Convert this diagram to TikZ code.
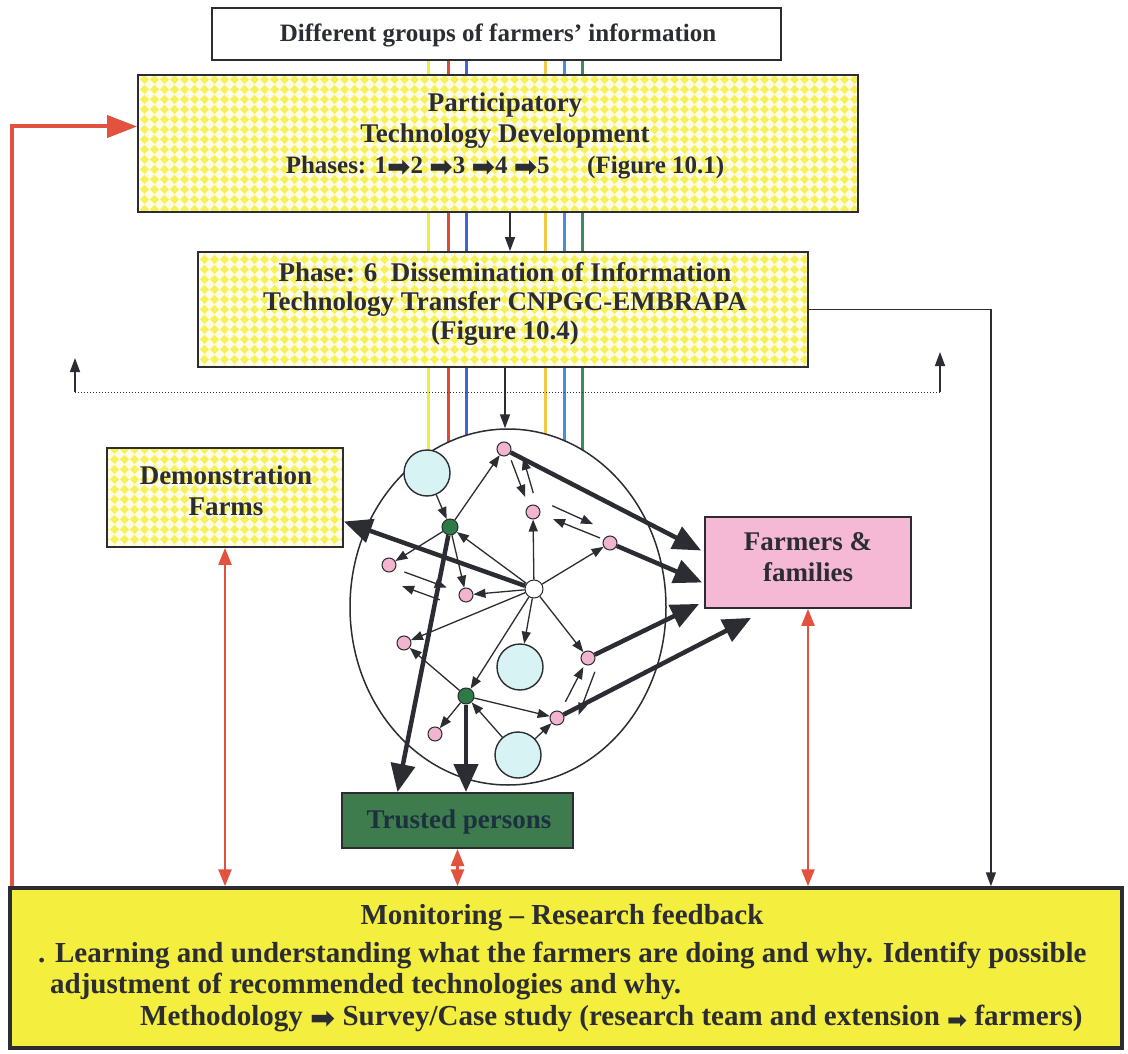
\documentclass[tikz,border=0pt]{standalone}
\usepackage{fontspec}
\setmainfont{Liberation Serif}
\newfontfamily\arrowfont{DejaVu Sans}
\usetikzlibrary{arrows.meta,calc,patterns,shapes.geometric}

% diagonal yellow/white check used for the framed boxes
\pgfdeclarepatternformonly{yellowcheck}{\pgfqpoint{0pt}{0pt}}{\pgfqpoint{10pt}{10pt}}{\pgfqpoint{10pt}{10pt}}{%
  \pgfpathmoveto{\pgfqpoint{5pt}{0pt}}%
  \pgfpathlineto{\pgfqpoint{10pt}{5pt}}%
  \pgfpathlineto{\pgfqpoint{5pt}{10pt}}%
  \pgfpathlineto{\pgfqpoint{0pt}{5pt}}%
  \pgfpathclose
  \pgfusepath{fill}}

\definecolor{ink}{HTML}{2B2D33}
\definecolor{redarr}{HTML}{E2523E}
\definecolor{chkyel}{HTML}{F6F05A}
\definecolor{chkbg}{HTML}{FDFCE6}
\definecolor{monyel}{HTML}{F4EE3E}
\definecolor{pinkbox}{HTML}{F5B9D6}
\definecolor{pinknode}{HTML}{F2B4CF}
\definecolor{greennode}{HTML}{2E7A46}
\definecolor{trustgreen}{HTML}{3E7C4E}
\definecolor{trusttext}{HTML}{1C3040}
\definecolor{cyanc}{HTML}{D7F3F3}
\definecolor{lyel}{HTML}{F4EC3C}
\definecolor{lred}{HTML}{DE4A3A}
\definecolor{lblue}{HTML}{3D66D6}
\definecolor{lorange}{HTML}{F2C845}
\definecolor{lblue2}{HTML}{4A8CE2}
\definecolor{lgreen}{HTML}{3E8A5C}

% heavy right arrow set inside the text lines
\newcommand{\blockarr}[1]{\raisebox{-0.12em}{\arrowfont\fontsize{#1}{#1}\selectfont ➡}}

\begin{document}
\begin{tikzpicture}[x=1pt,y=-1pt,
  lbl/.style={font=\bfseries\fontsize{27}{31}\selectfont, text=ink, align=center, inner sep=0pt},
  chk/.style={draw=ink, line width=1.8pt, preaction={fill=chkbg}, pattern=yellowcheck, pattern color=chkyel, inner sep=0pt},
  pk/.style={circle, draw=ink, line width=1pt, fill=pinknode, inner sep=0pt, minimum size=14pt},
  gn/.style={circle, draw=ink, line width=1pt, fill=greennode, inner sep=0pt, minimum size=16pt},
  wn/.style={circle, draw=ink, line width=1pt, fill=white, inner sep=0pt, minimum size=18pt},
  cy/.style={circle, draw=ink, line width=1.4pt, fill=cyanc, inner sep=0pt, minimum size=46pt},
  ta/.style={draw=ink, line width=1.3pt, -{Triangle[length=12pt,width=9pt]}},
  tk/.style={draw=ink, line width=4.5pt, -{Triangle[length=28pt,width=24pt]}},
  blk/.style={draw=ink, line width=1.5pt, -{Triangle[length=14pt,width=10pt]}},
  rd/.style={draw=redarr, line width=2.5pt, {Triangle[length=17pt,width=13pt]}-{Triangle[length=17pt,width=13pt]}},
  fb/.style={draw=redarr, line width=4pt, -{Triangle[length=30pt,width=22pt]}},
  montxt/.style={lbl, font=\bfseries\fontsize{29}{31}\selectfont},
]
\useasboundingbox (0,0) rectangle (1128,1054);
\fill[white] (0,0) rectangle (1128,1054);

% source box
\node[draw=ink, line width=1.5pt, fill=white, minimum width=569pt, minimum height=52pt, inner sep=0pt] (src) at (496.5,34) {};

% the six information streams, running behind the boxes into the network
\foreach \xx/\cc in {428/lyel,448/lred,466/lblue,545/lorange,564/lblue2,582/lgreen}
  \draw[\cc, line width=3pt] (\xx,0 |- src.south) -- (\xx,480);

\node[lbl, font=\bfseries\fontsize{25}{28}\selectfont] (srctxt) at (498,35) {Different groups of farmers’ information};

% participatory technology development
\node[chk, minimum width=720pt, minimum height=137pt] (ptd) at (498,143.5) {};
\node[lbl, font=\bfseries\fontsize{27}{31}\selectfont] (ptdtxt) at (505,136)
  {Participatory\\Technology Development\\{\fontsize{25}{31}\selectfont Phases: 1\blockarr{28}2 \blockarr{28}3 \blockarr{28}4 \blockarr{28}5\hspace{1.5em}(Figure 10.1)}};

% phase 6
\node[chk, minimum width=610pt, minimum height=115pt] (ph6) at (503,309.5) {};
\node[lbl, font=\bfseries\fontsize{27}{29}\selectfont] (ph6txt) at (505,304)
  {Phase: 6\ \ Dissemination of Information\\Technology Transfer CNPGC-EMBRAPA\\(Figure 10.4)};

\coordinate (a1) at ([xshift=12pt]ptd.south);
\draw[blk] (a1) -- (a1 |- ph6.north);

% dotted feedback level with its two upward arrows
\coordinate (dl) at (75,392);
\coordinate (dr) at (940,392);
\draw[ink, dotted, line width=1pt] (dl) -- (dr);
\draw[blk] (dl) -- ++(0,-34);
\draw[blk] (dr) -- ++(0,-40);

% network of farmers
\node[ellipse, draw=ink, line width=1.5pt, fill=white, minimum width=316pt, minimum height=356pt, inner sep=0pt] (net) at (508,607) {};
\draw[blk] ([xshift=2pt]ph6.south) -- ([xshift=2pt]ph6.south |- net.north);

% side boxes
\node[chk, minimum width=236pt, minimum height=99pt] (demo) at (225,497.5) {};
\node[lbl] (demotxt) at (226,491) {Demonstration\\Farms};
\node[draw=ink, line width=1.8pt, fill=pinkbox, minimum width=206pt, minimum height=91pt, inner sep=0pt] (farm) at (808,562.5) {};
\node[lbl] (farmtxt) at (808,557) {Farmers \&\\families};
\node[draw=ink, line width=2pt, fill=trustgreen, minimum width=231pt, minimum height=55pt, inner sep=0pt] (trust) at (457.5,820.5) {};
\node[lbl, text=trusttext] (trusttxt) at (459,822) {Trusted persons};

% network members
\node[cy] (C1) at (427,473) {};
\node[cy] (C2) at (520,667) {};
\node[cy] (C3) at (518,755) {};
\node[gn] (G1) at (450,527) {};
\node[gn] (G2) at (466,696) {};
\node[wn] (W) at (534,589) {};
\node[pk] (P1) at (504,449) {};
\node[pk] (P2) at (533,512) {};
\node[pk] (P3) at (610,543) {};
\node[pk] (P4) at (389,565) {};
\node[pk] (P5) at (466,595) {};
\node[pk] (P6) at (404,643) {};
\node[pk] (P7) at (588,658) {};
\node[pk] (P8) at (557,718) {};
\node[pk] (P9) at (435,734) {};

% links inside the network
\draw[ta] (C1) -- (G1);
\draw[ta] (G1) -- (P1);
\draw[ta] (W) -- (G1);
\draw[ta] (G1) -- (P4);
\draw[ta] (G1) -- (P5);
\draw[ta] (W) -- (P5);
\draw[ta] (W) -- (P2);
\draw[ta] (W) -- (P3);
\draw[ta] (W) -- (P6);
\draw[ta] (G2) -- (P6);
\draw[ta] (W) -- (C2);
\draw[ta] (W) -- (G2);
\draw[ta] (W) -- (P7);
\draw[ta] (G2) -- (P9);
\draw[ta] (G2) -- (P8);
\draw[ta] (C3) -- (G2);
\draw[ta] (C3) -- (P8);
% two-way exchanges
\draw[ta] ($(P1)!0.18!(P2)+(2,0)$) -- ($(P1)!0.76!(P2)+(-1,0)$);
\draw[ta] ($(P1)!0.70!(P2)+(9,0)$) -- ($(P1)!0.14!(P2)+(15,0)$);
\draw[ta] ($(P2)!0.25!(P3)+(0,-14)$) -- ($(P2)!0.78!(P3)+(0,-12)$);
\draw[ta] ($(P3)!0.13!(P2)+(0,-1)$) -- ($(P3)!0.74!(P2)+(0,-1)$);
\draw[ta] ($(P4)!0.20!(P5)+(0,1)$) -- ($(P4)!0.75!(P5)$);
\draw[ta] ($(P4)!0.66!(P5)+(0,15)$) -- ($(P4)!0.17!(P5)+(0,16)$);
\draw[ta] ($(P8)!0.27!(P7)$) -- ($(P8)!0.85!(P7)$);
\draw[ta] ($(P8)!0.77!(P7)+(14,0)$) -- ($(P8)!0.05!(P7)+(20,0)$);

% strong flows out of the network
\draw[tk] (W) -- ([yshift=-24pt]demo.east);
\draw[tk] (G1) -- ([xshift=-60pt]trust.north);
\draw[tk] (G2) -- (G2 |- trust.north);
\draw[tk] (P1) -- ([xshift=-3pt,yshift=12pt]farm.west);
\draw[tk] (P3) -- ([xshift=-2pt,yshift=-20pt]farm.west);
\draw[tk] (P7) -- ([xshift=-5pt,yshift=5pt]farm.south west);
\draw[tk] (P8) -- ([xshift=47pt,yshift=-9pt]farm.south west);

% monitoring
\node[draw=ink, line width=3.5pt, fill=monyel, minimum width=1112pt, minimum height=160pt, inner sep=0pt] (mon) at (566,968) {};
\node[montxt] (mon0) at (562,917) {Monitoring – Research feedback};
\node[montxt, anchor=west] (mon1) at (38,955) {. Learning and understanding what the farmers are doing and why. Identify possible};
\node[montxt, anchor=west] (mon2) at (50,986) {adjustment of recommended technologies and why.};
\node[montxt, anchor=west] (mon3) at (140,1018) {Methodology \blockarr{30}\ Survey/Case study (research team and extension \blockarr{24}\ farmers)};

% connections to monitoring
\coordinate (bend) at ($(ph6.east)+(182,0)$);
\draw[blk] (ph6.east) -- (bend) -- (bend |- mon.north);
\draw[rd] (demo.south) -- (demo.south |- mon.north);
\draw[rd] (trust.south) -- (trust.south |- mon.north);
\draw[rd] (farm.south) -- (farm.south |- mon.north);
\draw[fb] ([xshift=4pt]mon.north west) |- ([yshift=17pt]ptd.west);
\end{tikzpicture}
\end{document}
